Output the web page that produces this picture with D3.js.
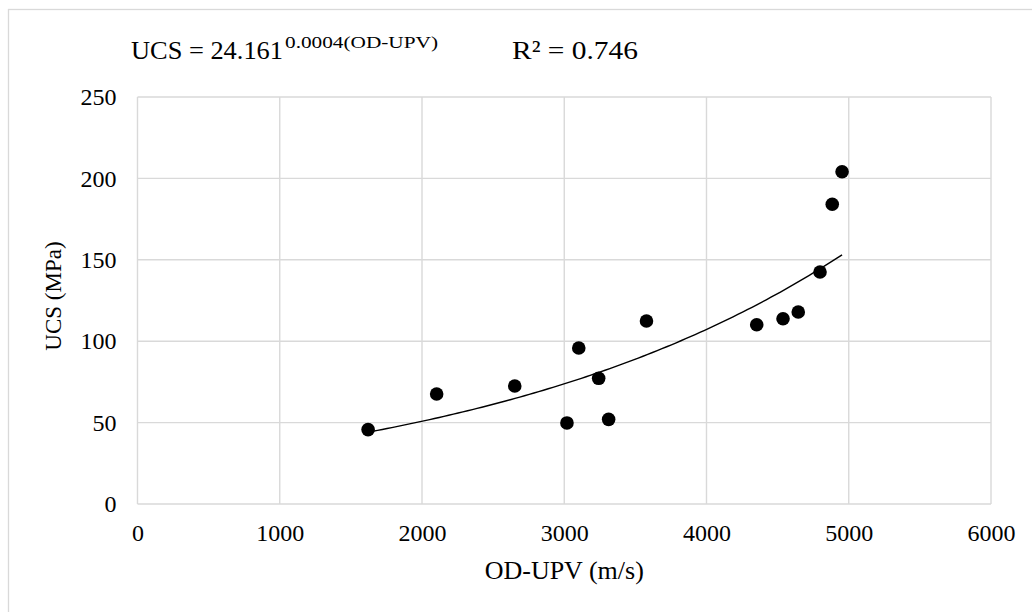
<!DOCTYPE html>
<html>
<head>
<meta charset="utf-8">
<script src="https://cdn.jsdelivr.net/npm/d3@7"></script>
<style>
  html, body { margin: 0; padding: 0; background: #fff; }
  svg { display: block; }
  text { font-family: "Liberation Serif", "Times New Roman", serif; fill: #000; }
</style>
</head>
<body>
<svg id="chart" width="1032" height="612"></svg>
<script>
// Samples: ultrasonic pulse velocity (m/s) vs uniaxial compressive strength (MPa)
const odUpv = [1621, 2103, 2652, 3019, 3102, 3242, 3312, 3578, 4353, 4538, 4645, 4798, 4884, 4953];
const ucs   = [45.7, 67.6, 72.5, 49.8, 95.8, 77.2, 52.0, 112.4, 110.1, 113.8, 117.9, 142.5, 184.1, 204.1];

const xTicks = [0, 1000, 2000, 3000, 4000, 5000, 6000];
const yTicks = [0, 50, 100, 150, 200, 250];

const equationBase = "UCS = 24.161";
const equationExp = "0.0004(OD-UPV)";
const rSquared = "R² = 0.746";
const xTitle = "OD-UPV (m/s)";
const yTitle = "UCS (MPa)";

const svg = d3.select("#chart");
const W = 1032, H = 612;
const plot = { left: 137.5, right: 991, top: 97, bottom: 504 };

svg.append("rect").attr("width", W).attr("height", H).attr("fill", "#fff");
// chart frame
svg.append("rect")
  .attr("x", 8.5).attr("y", 9.5)
  .attr("width", 1040).attr("height", 620)
  .attr("fill", "none").attr("stroke", "#d9d9d9").attr("stroke-width", 1.3);

const x = d3.scaleLinear().domain([0, 6000]).range([plot.left, plot.right]);
const y = d3.scaleLinear().domain([0, 250]).range([plot.bottom, plot.top]);

// gridlines
const grid = svg.append("g").attr("stroke", "#d9d9d9").attr("stroke-width", 1.4);
grid.selectAll("line.v").data(xTicks).join("line")
  .attr("x1", d => x(d)).attr("x2", d => x(d))
  .attr("y1", plot.top).attr("y2", plot.bottom);
grid.selectAll("line.h").data(yTicks).join("line")
  .attr("y1", d => y(d)).attr("y2", d => y(d))
  .attr("x1", plot.left).attr("x2", plot.right);

// axes (labels only)
const xAxis = svg.append("g")
  .attr("transform", `translate(0,${plot.bottom})`)
  .call(d3.axisBottom(x).tickValues(xTicks).tickSize(0).tickPadding(20).tickFormat(d3.format("d")));
const yAxis = svg.append("g")
  .attr("transform", `translate(${plot.left},0)`)
  .call(d3.axisLeft(y).tickValues(yTicks).tickSize(0).tickPadding(21).tickFormat(d3.format("d")));
[xAxis, yAxis].forEach(g => {
  g.select(".domain").remove();
  g.selectAll("text").attr("font-family", "Liberation Serif").attr("font-size", 24).attr("fill", "#000");
});

// exponential trendline fitted by least squares on ln(UCS)
const n = odUpv.length;
const lnY = ucs.map(v => Math.log(v));
const mx = d3.mean(odUpv), my = d3.mean(lnY);
let sxy = 0, sxx = 0;
for (let i = 0; i < n; i++) {
  sxy += (odUpv[i] - mx) * (lnY[i] - my);
  sxx += (odUpv[i] - mx) ** 2;
}
const b = sxy / sxx;
const a = Math.exp(my - b * mx);
const [x0, x1] = d3.extent(odUpv);
const fitPts = d3.range(0, 101).map(i => {
  const xv = x0 + (x1 - x0) * i / 100;
  return [xv, a * Math.exp(b * xv)];
});
svg.append("path")
  .datum(fitPts)
  .attr("d", d3.line().x(d => x(d[0])).y(d => y(d[1])))
  .attr("fill", "none").attr("stroke", "#000").attr("stroke-width", 1.4);

// data points
svg.append("g").selectAll("circle")
  .data(odUpv.map((v, i) => [v, ucs[i]]))
  .join("circle")
  .attr("cx", d => x(d[0])).attr("cy", d => y(d[1]))
  .attr("r", 6.8).attr("fill", "#000");

// axis titles
svg.append("text")
  .attr("x", (plot.left + plot.right) / 2).attr("y", 579)
  .attr("text-anchor", "middle").attr("font-size", 26)
  .text(xTitle);
svg.append("text")
  .attr("transform", `translate(61,296) rotate(-90)`)
  .attr("text-anchor", "middle").attr("font-size", 23)
  .text(yTitle);

// equation annotation
svg.append("text").attr("x", 131).attr("y", 59).attr("font-size", 26)
  .attr("textLength", 152).attr("lengthAdjust", "spacingAndGlyphs")
  .text(equationBase);
svg.append("text").attr("x", 285).attr("y", 48).attr("font-size", 16)
  .attr("textLength", 153).attr("lengthAdjust", "spacingAndGlyphs")
  .text(equationExp);
svg.append("text").attr("x", 512).attr("y", 59).attr("font-size", 26)
  .attr("textLength", 126).attr("lengthAdjust", "spacingAndGlyphs")
  .text(rSquared);
</script>
</body>
</html>
